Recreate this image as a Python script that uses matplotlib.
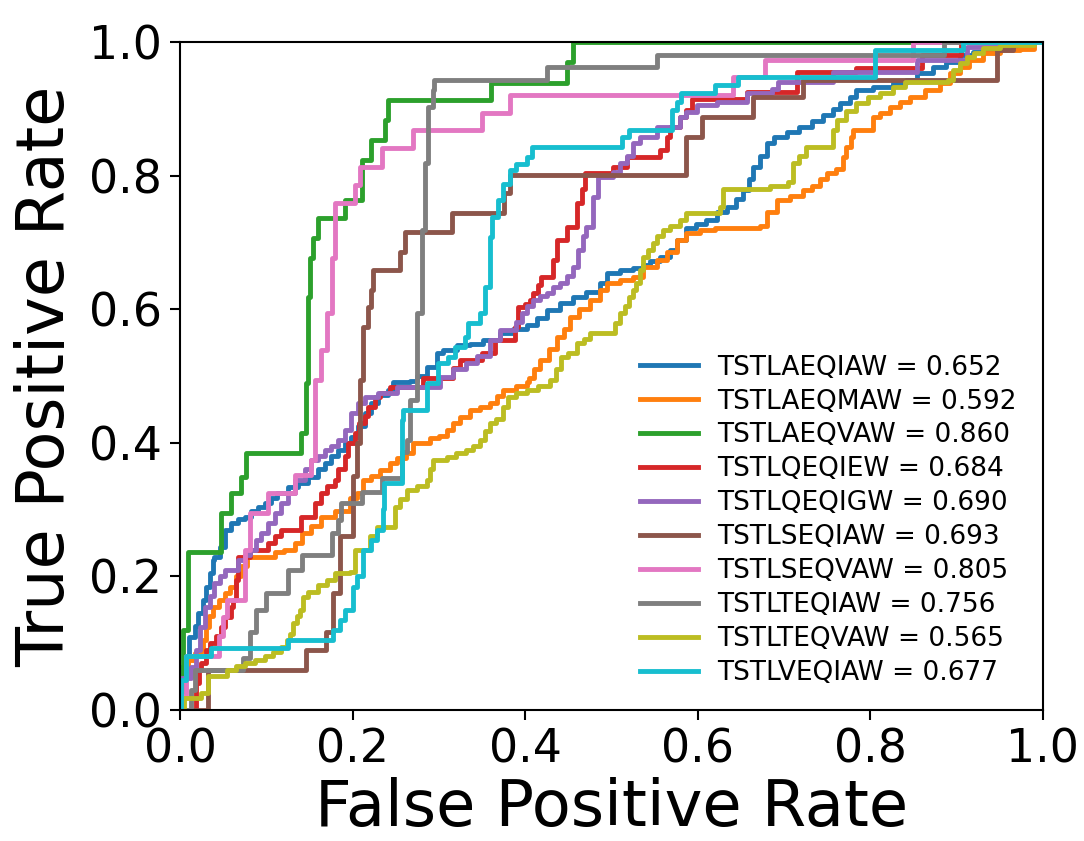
import matplotlib
matplotlib.use("Agg")
import matplotlib.pyplot as plt

names = ["TSTLAEQIAW", "TSTLAEQMAW", "TSTLAEQVAW", "TSTLQEQIEW", "TSTLQEQIGW",
         "TSTLSEQIAW", "TSTLSEQVAW", "TSTLTEQIAW", "TSTLTEQVAW", "TSTLVEQIAW"]
aucs = [0.652, 0.592, 0.860, 0.684, 0.690, 0.693, 0.805, 0.756, 0.565, 0.677]

blue_pts = [(0, 0), (0.001, 0.064), (0.007, 0.075), (0.011, 0.109), (0.017, 0.125), (0.021, 0.145),
            (0.027, 0.165), (0.030, 0.184), (0.035, 0.205), (0.038, 0.225), (0.040, 0.229), (0.046, 0.244),
            (0.052, 0.270), (0.059, 0.280), (0.067, 0.285), (0.075, 0.289), (0.082, 0.297), (0.090, 0.304),
            (0.098, 0.310), (0.105, 0.317), (0.113, 0.324), (0.125, 0.334), (0.137, 0.340), (0.148, 0.349),
            (0.160, 0.360), (0.168, 0.370), (0.175, 0.380), (0.183, 0.389), (0.191, 0.400), (0.198, 0.409),
            (0.206, 0.425), (0.214, 0.444), (0.221, 0.460), (0.230, 0.472), (0.241, 0.479), (0.247, 0.491),
            (0.267, 0.493), (0.275, 0.500), (0.286, 0.513), (0.298, 0.534), (0.305, 0.539), (0.321, 0.546),
            (0.336, 0.548), (0.351, 0.554), (0.371, 0.564), (0.386, 0.570), (0.402, 0.576), (0.414, 0.587),
            (0.425, 0.599), (0.440, 0.609), (0.455, 0.618), (0.471, 0.626), (0.487, 0.639), (0.495, 0.654),
            (0.510, 0.659), (0.525, 0.661), (0.537, 0.666), (0.545, 0.672), (0.556, 0.678), (0.568, 0.689),
            (0.576, 0.704), (0.587, 0.721), (0.598, 0.727), (0.610, 0.734), (0.622, 0.745), (0.634, 0.753),
            (0.645, 0.765), (0.652, 0.778), (0.660, 0.795), (0.664, 0.813), (0.672, 0.830), (0.680, 0.849),
            (0.688, 0.858), (0.703, 0.865), (0.718, 0.873), (0.733, 0.882), (0.745, 0.891), (0.757, 0.900),
            (0.765, 0.909), (0.776, 0.918), (0.784, 0.928), (0.803, 0.933), (0.826, 0.938), (0.842, 0.943),
            (0.854, 0.953), (0.873, 0.963), (0.888, 0.970), (0.904, 0.980), (0.919, 0.985), (0.939, 0.990),
            (0.965, 0.993), (0.985, 1.0), (1.0, 1.0)]

orange_pts = [(0, 0), (0.002, 0.050), (0.009, 0.075), (0.017, 0.085), (0.024, 0.090), (0.027, 0.105),
              (0.030, 0.124), (0.034, 0.140), (0.038, 0.154), (0.045, 0.165), (0.052, 0.175), (0.058, 0.184),
              (0.065, 0.200), (0.071, 0.215), (0.078, 0.229), (0.110, 0.237), (0.121, 0.240), (0.133, 0.250),
              (0.141, 0.265), (0.152, 0.275), (0.164, 0.289), (0.180, 0.297), (0.197, 0.317), (0.205, 0.325),
              (0.212, 0.344), (0.222, 0.350), (0.232, 0.359), (0.243, 0.370), (0.251, 0.377), (0.262, 0.385),
              (0.270, 0.400), (0.290, 0.407), (0.300, 0.410), (0.309, 0.419), (0.316, 0.430), (0.324, 0.439),
              (0.336, 0.449), (0.348, 0.454), (0.359, 0.459), (0.367, 0.470), (0.374, 0.479), (0.390, 0.485),
              (0.402, 0.491), (0.405, 0.497), (0.410, 0.510), (0.417, 0.524), (0.428, 0.540), (0.437, 0.558),
              (0.445, 0.570), (0.452, 0.588), (0.463, 0.600), (0.475, 0.614), (0.487, 0.629), (0.495, 0.639),
              (0.510, 0.643), (0.525, 0.648), (0.537, 0.663), (0.553, 0.674), (0.565, 0.685), (0.576, 0.704),
              (0.587, 0.714), (0.603, 0.719), (0.620, 0.722), (0.672, 0.724), (0.680, 0.746), (0.692, 0.763),
              (0.707, 0.770), (0.722, 0.778), (0.733, 0.785), (0.742, 0.795), (0.750, 0.804), (0.760, 0.810),
              (0.768, 0.828), (0.772, 0.843), (0.778, 0.858), (0.780, 0.868), (0.803, 0.888), (0.811, 0.893),
              (0.823, 0.903), (0.834, 0.910), (0.846, 0.918), (0.864, 0.928), (0.881, 0.939), (0.892, 0.954),
              (0.904, 0.963), (0.915, 0.973), (0.931, 0.983), (0.950, 0.988), (0.973, 0.990), (0.990, 1.0),
              (1.0, 1.0)]

green_pts = [(0, 0), (0.003, 0.120), (0.009, 0.237), (0.048, 0.295), (0.059, 0.325), (0.071, 0.349),
             (0.076, 0.385), (0.140, 0.415), (0.146, 0.490), (0.148, 0.618), (0.151, 0.677), (0.154, 0.707),
             (0.160, 0.737), (0.191, 0.763), (0.211, 0.823), (0.222, 0.853), (0.238, 0.883), (0.241, 0.913),
             (0.361, 0.939), (0.448, 0.970), (0.455, 1.0), (1.0, 1.0)]

red_pts = [(0, 0), (0.019, 0.040), (0.022, 0.060), (0.024, 0.070), (0.030, 0.090), (0.035, 0.100),
           (0.042, 0.110), (0.048, 0.124), (0.052, 0.139), (0.059, 0.154), (0.061, 0.165), (0.065, 0.195),
           (0.067, 0.229), (0.081, 0.240), (0.102, 0.250), (0.110, 0.260), (0.117, 0.270), (0.140, 0.289),
           (0.156, 0.310), (0.163, 0.325), (0.171, 0.335), (0.180, 0.344), (0.183, 0.360), (0.191, 0.380),
           (0.195, 0.400), (0.203, 0.415), (0.208, 0.430), (0.214, 0.440), (0.218, 0.454), (0.226, 0.469),
           (0.232, 0.475), (0.243, 0.484), (0.282, 0.497), (0.317, 0.512), (0.324, 0.524), (0.350, 0.534),
           (0.365, 0.554), (0.388, 0.573), (0.392, 0.603), (0.400, 0.608), (0.406, 0.614), (0.409, 0.624),
           (0.415, 0.636), (0.419, 0.648), (0.432, 0.674), (0.437, 0.704), (0.448, 0.723), (0.460, 0.759),
           (0.466, 0.780), (0.469, 0.804), (0.502, 0.813), (0.518, 0.828), (0.556, 0.838), (0.564, 0.858),
           (0.568, 0.873), (0.579, 0.888), (0.587, 0.898), (0.593, 0.915), (0.657, 0.925), (0.715, 0.955),
           (0.784, 0.961), (0.860, 0.980), (0.905, 1.0), (1.0, 1.0)]

purple_pts = [(0, 0), (0.001, 0.047), (0.013, 0.064), (0.019, 0.090), (0.023, 0.124), (0.029, 0.154),
              (0.035, 0.170), (0.040, 0.190), (0.046, 0.200), (0.052, 0.210), (0.067, 0.225), (0.075, 0.232),
              (0.081, 0.240), (0.088, 0.255), (0.094, 0.265), (0.102, 0.280), (0.110, 0.295), (0.117, 0.310),
              (0.125, 0.325), (0.133, 0.344), (0.145, 0.360), (0.152, 0.374), (0.160, 0.380), (0.168, 0.389),
              (0.175, 0.395), (0.183, 0.404), (0.191, 0.419), (0.198, 0.444), (0.206, 0.459), (0.214, 0.469),
              (0.230, 0.474), (0.251, 0.484), (0.301, 0.499), (0.317, 0.510), (0.332, 0.519), (0.344, 0.530),
              (0.359, 0.554), (0.371, 0.569), (0.390, 0.581), (0.396, 0.594), (0.402, 0.604), (0.409, 0.614),
              (0.417, 0.619), (0.425, 0.624), (0.432, 0.633), (0.440, 0.639), (0.448, 0.650), (0.455, 0.663),
              (0.461, 0.689), (0.467, 0.710), (0.471, 0.723), (0.479, 0.768), (0.484, 0.798), (0.502, 0.805),
              (0.510, 0.819), (0.518, 0.830), (0.525, 0.849), (0.533, 0.858), (0.553, 0.873), (0.579, 0.888),
              (0.587, 0.895), (0.599, 0.906), (0.622, 0.910), (0.657, 0.924), (0.686, 0.930), (0.693, 0.940),
              (0.757, 0.955), (0.854, 0.973), (0.912, 0.993), (0.950, 1.0), (1.0, 1.0)]

brown_pts = [(0, 0), (0.032, 0.060), (0.146, 0.090), (0.169, 0.117), (0.177, 0.175), (0.185, 0.260),
             (0.200, 0.350), (0.205, 0.400), (0.209, 0.494), (0.212, 0.573), (0.218, 0.603), (0.222, 0.629),
             (0.224, 0.659), (0.255, 0.686), (0.261, 0.716), (0.315, 0.744), (0.375, 0.774), (0.383, 0.801),
             (0.587, 0.858), (0.605, 0.888), (0.664, 0.918), (0.722, 0.943), (0.947, 0.988), (0.965, 1.0),
             (1.0, 1.0)]

pink_pts = [(0, 0), (0.003, 0.020), (0.007, 0.080), (0.040, 0.080), (0.045, 0.110), (0.050, 0.139),
            (0.055, 0.165), (0.075, 0.240), (0.081, 0.295), (0.102, 0.325), (0.133, 0.352), (0.152, 0.374),
            (0.157, 0.494), (0.164, 0.539), (0.170, 0.594), (0.176, 0.677), (0.180, 0.759), (0.203, 0.786),
            (0.209, 0.813), (0.234, 0.841), (0.270, 0.868), (0.350, 0.894), (0.382, 0.921), (0.641, 0.948),
            (0.678, 0.973), (0.850, 1.0), (1.0, 1.0)]

gray_pts = [(0, 0), (0.013, 0.030), (0.017, 0.060), (0.073, 0.078), (0.081, 0.117), (0.088, 0.150),
            (0.100, 0.175), (0.125, 0.210), (0.141, 0.232), (0.176, 0.265), (0.183, 0.284), (0.187, 0.310),
            (0.211, 0.326), (0.234, 0.347), (0.257, 0.386), (0.263, 0.404), (0.267, 0.464), (0.275, 0.594),
            (0.280, 0.719), (0.284, 0.819), (0.287, 0.903), (0.293, 0.928), (0.295, 0.943), (0.425, 0.963),
            (0.553, 0.980), (0.885, 1.0), (1.0, 1.0)]

olive_pts = [(0, 0), (0.005, 0.018), (0.024, 0.025), (0.032, 0.050), (0.048, 0.050), (0.055, 0.060),
             (0.065, 0.065), (0.075, 0.070), (0.087, 0.075), (0.098, 0.080), (0.108, 0.087), (0.117, 0.094),
             (0.124, 0.105), (0.127, 0.114), (0.131, 0.130), (0.136, 0.140), (0.139, 0.150), (0.143, 0.169),
             (0.148, 0.177), (0.160, 0.187), (0.171, 0.195), (0.180, 0.205), (0.197, 0.207), (0.203, 0.240),
             (0.216, 0.240), (0.220, 0.260), (0.228, 0.274), (0.243, 0.274), (0.249, 0.304), (0.255, 0.315),
             (0.263, 0.329), (0.275, 0.335), (0.286, 0.344), (0.290, 0.360), (0.293, 0.374), (0.309, 0.379),
             (0.320, 0.384), (0.332, 0.389), (0.340, 0.395), (0.348, 0.404), (0.354, 0.418), (0.359, 0.430),
             (0.366, 0.435), (0.374, 0.454), (0.380, 0.469), (0.390, 0.474), (0.402, 0.479), (0.415, 0.485),
             (0.429, 0.494), (0.436, 0.510), (0.442, 0.528), (0.450, 0.535), (0.460, 0.549), (0.468, 0.556),
             (0.475, 0.564), (0.498, 0.564), (0.504, 0.580), (0.510, 0.594), (0.516, 0.605), (0.521, 0.618),
             (0.525, 0.628), (0.529, 0.639), (0.533, 0.659), (0.537, 0.678), (0.543, 0.688), (0.548, 0.699),
             (0.553, 0.709), (0.560, 0.719), (0.568, 0.724), (0.579, 0.734), (0.587, 0.744), (0.618, 0.744),
             (0.626, 0.753), (0.629, 0.780), (0.684, 0.785), (0.705, 0.790), (0.711, 0.819), (0.718, 0.830),
             (0.726, 0.843), (0.750, 0.843), (0.757, 0.868), (0.761, 0.883), (0.772, 0.897), (0.784, 0.909),
             (0.797, 0.918), (0.811, 0.924), (0.826, 0.933), (0.840, 0.940), (0.890, 0.943), (0.896, 0.958),
             (0.904, 0.968), (0.912, 0.978), (0.920, 0.984), (0.931, 0.991), (0.950, 0.995), (0.990, 1.0),
             (1.0, 1.0)]

cyan_fpr = [0, 0.001, 0.007, 0.036, 0.125, 0.177, 0.185, 0.191, 0.200, 0.205, 0.212, 0.222, 0.228, 0.235,
            0.237, 0.257, 0.259, 0.286, 0.299, 0.311, 0.319, 0.330, 0.334, 0.348, 0.353, 0.359, 0.362, 0.369,
            0.374, 0.382, 0.390, 0.402, 0.408, 0.512, 0.521, 0.570, 0.576, 0.581, 0.620, 0.647, 0.805, 0.907, 1.0]
cyan_tpr = [0, 0.045, 0.080, 0.093, 0.105, 0.120, 0.135, 0.150, 0.184, 0.200, 0.240, 0.255, 0.270, 0.300,
            0.340, 0.434, 0.449, 0.490, 0.519, 0.528, 0.543, 0.558, 0.579, 0.594, 0.633, 0.708, 0.738, 0.763,
            0.788, 0.808, 0.818, 0.828, 0.843, 0.858, 0.868, 0.898, 0.910, 0.924, 0.936, 0.948, 0.988, 1.0, 1.0]

curves = [
    [p[0] for p in blue_pts], [p[1] for p in blue_pts],
    [p[0] for p in orange_pts], [p[1] for p in orange_pts],
    [p[0] for p in green_pts], [p[1] for p in green_pts],
    [p[0] for p in red_pts], [p[1] for p in red_pts],
    [p[0] for p in purple_pts], [p[1] for p in purple_pts],
    [p[0] for p in brown_pts], [p[1] for p in brown_pts],
    [p[0] for p in pink_pts], [p[1] for p in pink_pts],
    [p[0] for p in gray_pts], [p[1] for p in gray_pts],
    [p[0] for p in olive_pts], [p[1] for p in olive_pts],
    cyan_fpr, cyan_tpr,
]

fig = plt.figure(figsize=(10.84, 8.41), dpi=100)
ax = fig.add_axes([0.166, 0.156, 0.796, 0.794])

for i, name in enumerate(names):
    fpr = curves[2 * i]
    tpr = curves[2 * i + 1]
    ax.plot(fpr, tpr, drawstyle="steps-post", lw=3.5, color=f"C{i}",
            label=f"{name} = {aucs[i]:.3f}")

ax.set_xlim(0, 1)
ax.set_ylim(0, 1)
ax.set_xticks([0, 0.2, 0.4, 0.6, 0.8, 1.0])
ax.set_yticks([0, 0.2, 0.4, 0.6, 0.8, 1.0])
ax.tick_params(labelsize=33, width=1.5, length=7, pad=6)
for s in ax.spines.values():
    s.set_linewidth(1.5)
ax.set_xlabel("False Positive Rate", fontsize=46, labelpad=3)
ax.set_ylabel("True Positive Rate", fontsize=47, labelpad=8)

ax.legend(loc="lower left", bbox_to_anchor=(0.521, 0.02), borderaxespad=0,
          frameon=False, fontsize=19, labelspacing=0.3, handlelength=2.2,
          handletextpad=0.72)

fig.savefig("out.png", dpi=100)
